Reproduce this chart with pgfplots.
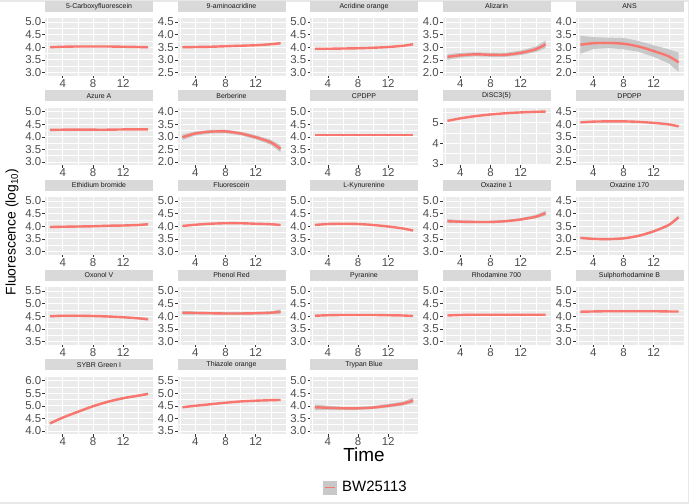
\documentclass[border=0pt]{standalone}
\usepackage{fontspec}
\setmainfont{Liberation Sans}
\usepackage{pgfplots}
\pgfplotsset{compat=1.18}
\definecolor{panelbg}{RGB}{235,235,235}
\definecolor{stripbg}{RGB}{217,217,217}
\definecolor{striptext}{RGB}{26,26,26}
\definecolor{ticktext}{RGB}{77,77,77}
\definecolor{tickcol}{RGB}{51,51,51}
\definecolor{curvecol}{RGB}{248,118,109}
\definecolor{ribboncol}{RGB}{200,200,200}
\definecolor{framecol}{RGB}{232,232,232}
\pgfplotsset{
 ggpanel/.style={
  scale only axis, width=108bp, height=57.5bp,
  xmin=1.65, xmax=15.95,
  xtick={4,8,12}, minor xtick={2,6,10,14},
  xtick pos=bottom, ytick pos=left,
  grid=both,
  major grid style={white, line width=0.9bp},
  minor grid style={white, line width=0.45bp},
  axis background/.style={fill=panelbg},
  axis line style={draw=none},
  tick align=outside,
  major tick length=2.5bp, minor tick length=0pt,
  tick style={tickcol, line width=0.5bp},
  ticklabel style={font=\fontsize{11.5}{12}\selectfont, text=ticktext, inner sep=1bp},
  /pgf/number format/assume math mode=true,
  yticklabel style={/pgf/number format/.cd, fixed, fixed zerofill, precision=1},
  xticklabel style={/pgf/number format/.cd, fixed, precision=0},
  title style={at={(0.5,1)}, anchor=south, yshift=0pt, fill=stripbg, minimum width=108bp, minimum height=11bp, inner sep=0pt, font=\fontsize{7}{8}\selectfont, text=striptext},
 },
 yrA/.style={ymin=1.88, ymax=4.16, ytick={2,2.5,...,4}, minor ytick={2.25,2.75,3.25,3.75}},
 yrB/.style={ymin=2.38, ymax=4.66, ytick={2.5,3,...,4.5}, minor ytick={2.75,3.25,3.75,4.25}},
 yrC/.style={ymin=2.88, ymax=5.16, ytick={3,3.5,...,5}, minor ytick={3.25,3.75,4.25,4.75}},
 yrD/.style={ymin=3.38, ymax=5.66, ytick={3.5,4,...,5.5}, minor ytick={3.75,4.25,4.75,5.25}},
 yrE/.style={ymin=3.88, ymax=6.16, ytick={4,4.5,...,6}, minor ytick={4.25,4.75,5.25,5.75}},
 curve/.style={curvecol, line width=2.4bp, smooth},
 ribbon/.style={fill=ribboncol, draw=none},
}
\begin{document}
\begin{tikzpicture}
\useasboundingbox (0,0) rectangle (689bp,-504bp);
\fill[framecol] (0,0) rectangle (689bp,-2bp);
\fill[framecol] (0,-501.5bp) rectangle (689bp,-504bp);
\fill[framecol] (687.5bp,0) rectangle (689bp,-504bp);

% ---------------- row 1
\begin{axis}[ggpanel, yrC, at={(45bp,-18bp)}, anchor=north west, title={5-Carboxyfluorescein}]
\addplot[curve] coordinates {(2.3,4.00) (4,4.02) (6,4.03) (8,4.03) (10,4.03) (12,4.02) (14,4.01) (15.3,4.00)};
\end{axis}
\begin{axis}[ggpanel, yrB, at={(177.5bp,-18bp)}, anchor=north west, title={9-aminoacridine}]
\addplot[ribbon] coordinates {(2.3,3.53) (4,3.53) (6,3.54) (8,3.56) (10,3.58) (12,3.60) (14,3.65) (15.3,3.70) (15.3,3.62) (14,3.59) (12,3.56) (10,3.54) (8,3.52) (6,3.50) (4,3.49) (2.3,3.47)} -- cycle;
\addplot[curve] coordinates {(2.3,3.50) (4,3.51) (6,3.52) (8,3.54) (10,3.56) (12,3.58) (14,3.62) (15.3,3.66)};
\end{axis}
\begin{axis}[ggpanel, yrC, at={(310bp,-18bp)}, anchor=north west, title={Acridine orange}]
\addplot[curve] coordinates {(2.3,3.94) (4,3.94) (6,3.95) (8,3.96) (10,3.98) (12,4.01) (14,4.06) (15.3,4.12)};
\end{axis}
\begin{axis}[ggpanel, yrA, at={(442.5bp,-18bp)}, anchor=north west, title={Alizarin}]
\addplot[ribbon] coordinates {(2.3,2.74) (4,2.77) (6,2.80) (8,2.78) (10,2.78) (12,2.87) (14,3.03) (15.3,3.27) (15.3,2.97) (14,2.81) (12,2.69) (10,2.62) (8,2.62) (6,2.64) (4,2.59) (2.3,2.50)} -- cycle;
\addplot[curve] coordinates {(2.3,2.62) (4,2.68) (6,2.72) (8,2.70) (10,2.70) (12,2.78) (14,2.92) (15.3,3.12)};
\end{axis}
\begin{axis}[ggpanel, yrA, at={(575.5bp,-18bp)}, anchor=north west, title={ANS}]
\addplot[ribbon] coordinates {(2.3,3.46) (4,3.40) (6,3.38) (8,3.37) (10,3.25) (12,3.08) (14,2.92) (15.3,2.79) (15.3,2.02) (14,2.36) (12,2.62) (10,2.82) (8,2.92) (6,2.97) (4,2.93) (2.3,2.74)} -- cycle;
\addplot[curve] coordinates {(2.3,3.10) (4,3.16) (6,3.17) (8,3.14) (10,3.03) (12,2.85) (14,2.64) (15.3,2.40)};
\end{axis}

% ---------------- row 2
\begin{axis}[ggpanel, yrC, at={(45bp,-107.5bp)}, anchor=north west, title={Azure A}]
\addplot[curve] coordinates {(2.3,4.27) (4,4.28) (6,4.28) (8,4.28) (10,4.28) (12,4.29) (14,4.29) (15.3,4.29)};
\end{axis}
\begin{axis}[ggpanel, yrA, at={(177.5bp,-107.5bp)}, anchor=north west, title={Berberine}]
\addplot[ribbon] coordinates {(2.3,3.09) (4,3.21) (6,3.27) (8,3.28) (10,3.20) (12,3.06) (14,2.88) (15.3,2.66) (15.3,2.38) (14,2.68) (12,2.90) (10,3.06) (8,3.14) (6,3.13) (4,3.05) (2.3,2.87)} -- cycle;
\addplot[curve] coordinates {(2.3,2.98) (4,3.13) (6,3.20) (8,3.21) (10,3.13) (12,2.98) (14,2.78) (15.3,2.52)};
\end{axis}
\begin{axis}[ggpanel, yrC, at={(310bp,-107.5bp)}, anchor=north west, title={CPDPP}]
\addplot[curve] coordinates {(2.3,4.06) (4,4.06) (6,4.06) (8,4.06) (10,4.06) (12,4.06) (14,4.06) (15.3,4.06)};
\end{axis}
\begin{axis}[ggpanel, ymin=2.95, ymax=5.75, ytick={3,4,5}, minor ytick={3.5,4.5,5.5}, yticklabel style={/pgf/number format/.cd, fixed, precision=0}, at={(442.5bp,-107.5bp)}, anchor=north west, title={DiSC3(5)}]
\addplot[curve] coordinates {(2.3,5.10) (4,5.22) (6,5.33) (8,5.41) (10,5.47) (12,5.51) (14,5.54) (15.3,5.55)};
\end{axis}
\begin{axis}[ggpanel, yrB, at={(575.5bp,-107.5bp)}, anchor=north west, title={DPDPP}]
\addplot[curve] coordinates {(2.3,4.07) (4,4.10) (6,4.11) (8,4.11) (10,4.09) (12,4.05) (14,3.99) (15.3,3.91)};
\end{axis}

% ---------------- row 3
\begin{axis}[ggpanel, yrC, at={(45bp,-197bp)}, anchor=north west, title={Ethidium bromide}]
\addplot[ribbon] coordinates {(2.3,4.02) (4,4.01) (6,4.02) (8,4.03) (10,4.05) (12,4.06) (14,4.09) (15.3,4.13) (15.3,4.03) (14,4.01) (12,4.00) (10,3.99) (8,3.97) (6,3.96) (4,3.95) (2.3,3.92)} -- cycle;
\addplot[curve] coordinates {(2.3,3.97) (4,3.98) (6,3.99) (8,4.00) (10,4.02) (12,4.03) (14,4.05) (15.3,4.08)};
\end{axis}
\begin{axis}[ggpanel, yrC, at={(177.5bp,-197bp)}, anchor=north west, title={Fluorescein}]
\addplot[curve] coordinates {(2.3,4.01) (4,4.06) (6,4.10) (8,4.12) (10,4.12) (12,4.10) (14,4.08) (15.3,4.05)};
\end{axis}
\begin{axis}[ggpanel, yrC, at={(310bp,-197bp)}, anchor=north west, title={L-Kynurenine}]
\addplot[curve] coordinates {(2.3,4.05) (4,4.09) (6,4.10) (8,4.09) (10,4.05) (12,3.99) (14,3.91) (15.3,3.83)};
\end{axis}
\begin{axis}[ggpanel, yrC, at={(442.5bp,-197bp)}, anchor=north west, title={Oxazine 1}]
\addplot[ribbon] coordinates {(2.3,4.28) (4,4.24) (6,4.22) (8,4.22) (10,4.25) (12,4.32) (14,4.45) (15.3,4.62) (15.3,4.42) (14,4.31) (12,4.22) (10,4.15) (8,4.12) (6,4.12) (4,4.12) (2.3,4.12)} -- cycle;
\addplot[curve] coordinates {(2.3,4.20) (4,4.18) (6,4.17) (8,4.17) (10,4.20) (12,4.27) (14,4.38) (15.3,4.52)};
\end{axis}
\begin{axis}[ggpanel, yrB, at={(575.5bp,-197bp)}, anchor=north west, title={Oxazine 170}]
\addplot[ribbon] coordinates {(2.3,3.09) (4,3.04) (6,3.03) (8,3.06) (10,3.16) (12,3.34) (14,3.60) (15.3,3.93) (15.3,3.79) (14,3.50) (12,3.26) (10,3.08) (8,2.98) (6,2.95) (4,2.96) (2.3,2.99)} -- cycle;
\addplot[curve] coordinates {(2.3,3.04) (4,3.00) (6,2.99) (8,3.02) (10,3.12) (12,3.30) (14,3.55) (15.3,3.86)};
\end{axis}

% ---------------- row 4
\begin{axis}[ggpanel, yrD, at={(45bp,-287bp)}, anchor=north west, title={Oxonol V}]
\addplot[ribbon] coordinates {(2.3,4.54) (4,4.55) (6,4.55) (8,4.54) (10,4.52) (12,4.49) (14,4.46) (15.3,4.43) (15.3,4.33) (14,4.38) (12,4.43) (10,4.46) (8,4.48) (6,4.49) (4,4.49) (2.3,4.46)} -- cycle;
\addplot[curve] coordinates {(2.3,4.50) (4,4.52) (6,4.52) (8,4.51) (10,4.49) (12,4.46) (14,4.42) (15.3,4.38)};
\end{axis}
\begin{axis}[ggpanel, yrC, at={(177.5bp,-287bp)}, anchor=north west, title={Phenol Red}]
\addplot[ribbon] coordinates {(2.3,4.22) (4,4.19) (6,4.17) (8,4.16) (10,4.16) (12,4.17) (14,4.20) (15.3,4.27) (15.3,4.09) (14,4.08) (12,4.07) (10,4.06) (8,4.06) (6,4.07) (4,4.07) (2.3,4.06)} -- cycle;
\addplot[curve] coordinates {(2.3,4.14) (4,4.13) (6,4.12) (8,4.11) (10,4.11) (12,4.12) (14,4.14) (15.3,4.18)};
\end{axis}
\begin{axis}[ggpanel, yrC, at={(310bp,-287bp)}, anchor=north west, title={Pyranine}]
\addplot[curve] coordinates {(2.3,4.02) (4,4.04) (6,4.05) (8,4.05) (10,4.05) (12,4.04) (14,4.03) (15.3,4.01)};
\end{axis}
\begin{axis}[ggpanel, yrC, at={(442.5bp,-287bp)}, anchor=north west, title={Rhodamine 700}]
\addplot[curve] coordinates {(2.3,4.03) (4,4.05) (6,4.06) (8,4.06) (10,4.06) (12,4.06) (14,4.06) (15.3,4.06)};
\end{axis}
\begin{axis}[ggpanel, yrC, at={(575.5bp,-287bp)}, anchor=north west, title={Sulphorhodamine B}]
\addplot[curve] coordinates {(2.3,4.18) (4,4.19) (6,4.20) (8,4.20) (10,4.20) (12,4.20) (14,4.19) (15.3,4.19)};
\end{axis}

% ---------------- row 5
\begin{axis}[ggpanel, yrE, at={(45bp,-376.5bp)}, anchor=north west, title={SYBR Green I}]
\addplot[ribbon] coordinates {(2.3,4.35) (4,4.57) (6,4.80) (8,5.02) (10,5.20) (12,5.34) (14,5.44) (15.3,5.52) (15.3,5.42) (14,5.36) (12,5.26) (10,5.12) (8,4.94) (6,4.72) (4,4.49) (2.3,4.25)} -- cycle;
\addplot[curve] coordinates {(2.3,4.30) (4,4.53) (6,4.76) (8,4.98) (10,5.16) (12,5.30) (14,5.40) (15.3,5.47)};
\end{axis}
\begin{axis}[ggpanel, yrD, at={(177.5bp,-376.5bp)}, anchor=north west, title={Thiazole orange}]
\addplot[curve] coordinates {(2.3,4.44) (4,4.50) (6,4.56) (8,4.62) (10,4.67) (12,4.70) (14,4.72) (15.3,4.73)};
\end{axis}
\begin{axis}[ggpanel, yrC, at={(310bp,-376.5bp)}, anchor=north west, title={Trypan Blue},
  legend style={at={(0.51,-0.93)}, anchor=center, draw=none, fill=none, font=\fontsize{15}{17}\selectfont, inner sep=0pt, nodes={inner sep=0pt}},
  legend cell align=left,
  legend image code/.code={\fill[ribboncol] (0bp,-6.35bp) rectangle (12.7bp,6.35bp); \draw[curvecol, line width=1.5bp] (1.3bp,0bp) -- (11.4bp,0bp); \path (18.4bp,0bp);}]
\addlegendimage{curvecol}
\addlegendentry{BW25113}
\addplot[ribbon] coordinates {(2.3,4.05) (4,4.00) (6,3.96) (8,3.96) (10,3.99) (12,4.07) (14,4.17) (15.3,4.32) (15.3,4.10) (14,4.01) (12,3.93) (10,3.87) (8,3.84) (6,3.84) (4,3.84) (2.3,3.83)} -- cycle;
\addplot[curve] coordinates {(2.3,3.94) (4,3.92) (6,3.90) (8,3.90) (10,3.93) (12,4.00) (14,4.09) (15.3,4.21)};
\end{axis}

\node[rotate=90, font=\fontsize{14}{16}\selectfont] at (12bp,-232bp) {Fluorescence (log\textsubscript{10})};
\node[font=\fontsize{19}{22}\selectfont] at (364bp,-455bp) {Time};
\end{tikzpicture}
\end{document}
